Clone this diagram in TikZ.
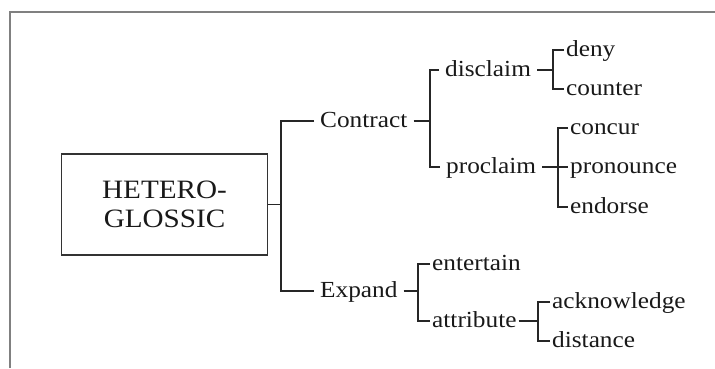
\documentclass[tikz,border=0pt]{standalone}
\usepackage{fontspec}
\setmainfont{Liberation Serif}[FakeStretch=1.1]
\begin{document}
\begin{tikzpicture}[x=1pt,y=-1pt,
  conn/.style={draw=black!85, line width=1.4pt},
  lab/.style={anchor=west, font=\fontsize{23}{27}\selectfont, text height=17pt, text depth=4pt, inner ysep=0pt, inner xsep=2pt, text=black!90},
  midlab/.style={lab, inner xsep=6pt},
  rootbox/.style={draw=black!80, line width=1.4pt, minimum width=206pt, minimum height=101pt, align=center, inner sep=0pt, font=\fontsize{26.5}{29}\selectfont, text=black!90}]
\useasboundingbox (0,0) rectangle (715,368);
\fill[white] (0,0) rectangle (715,368);
% frame
\draw[line width=2pt, draw=black!50] (10,368) -- (10,12) -- (715,12);
% root
\node[rootbox] (hg) at (164.5,204.5) {HETERO-\\GLOSSIC};
% level 1
\node[midlab] (contract) at (314,121) {Contract};
\node[midlab] (expand) at (314,291) {Expand};
% level 2
\node[midlab] (disclaim) at (439,70) {disclaim};
\node[midlab] (proclaim) at (440,167) {proclaim};
\node[lab] (entertain) at (430,264) {entertain};
\node[lab] (attribute) at (430,321) {attribute};
% level 3
\node[lab] (deny) at (564,50) {deny};
\node[lab] (counter) at (564,89) {counter};
\node[lab] (concur) at (568,128) {concur};
\node[lab] (pronounce) at (568,167) {pronounce};
\node[lab] (endorse) at (568,207) {endorse};
\node[lab] (acknowledge) at (550,302) {acknowledge};
\node[lab] (distance) at (550,341) {distance};
% bracket x positions
\coordinate (r0) at (281,0);
\coordinate (r1) at (430,0);
\coordinate (r2) at (553,0);
\coordinate (r3) at (558,0);
\coordinate (r4) at (418,0);
\coordinate (r5) at (538,0);
% connectors
\draw[conn] (hg.east) -- (hg.east -| r0);
\draw[conn] (contract.west) -| (r0 |- expand.west) -- (expand.west);
\draw[conn] (contract.east) -- (contract.east -| r1);
\draw[conn] (disclaim.west) -| (r1 |- proclaim.west) -- (proclaim.west);
\draw[conn] (disclaim.east) -- (disclaim.east -| r2);
\draw[conn] (deny.west) -| (r2 |- counter.west) -- (counter.west);
\draw[conn] (proclaim.east) -- (pronounce.west);
\draw[conn] (concur.west) -| (r3 |- endorse.west) -- (endorse.west);
\draw[conn] (expand.east) -- (expand.east -| r4);
\draw[conn] (entertain.west) -| (r4 |- attribute.west) -- (attribute.west);
\draw[conn] (attribute.east) -- (attribute.east -| r5);
\draw[conn] (acknowledge.west) -| (r5 |- distance.west) -- (distance.west);
\end{tikzpicture}
\end{document}
